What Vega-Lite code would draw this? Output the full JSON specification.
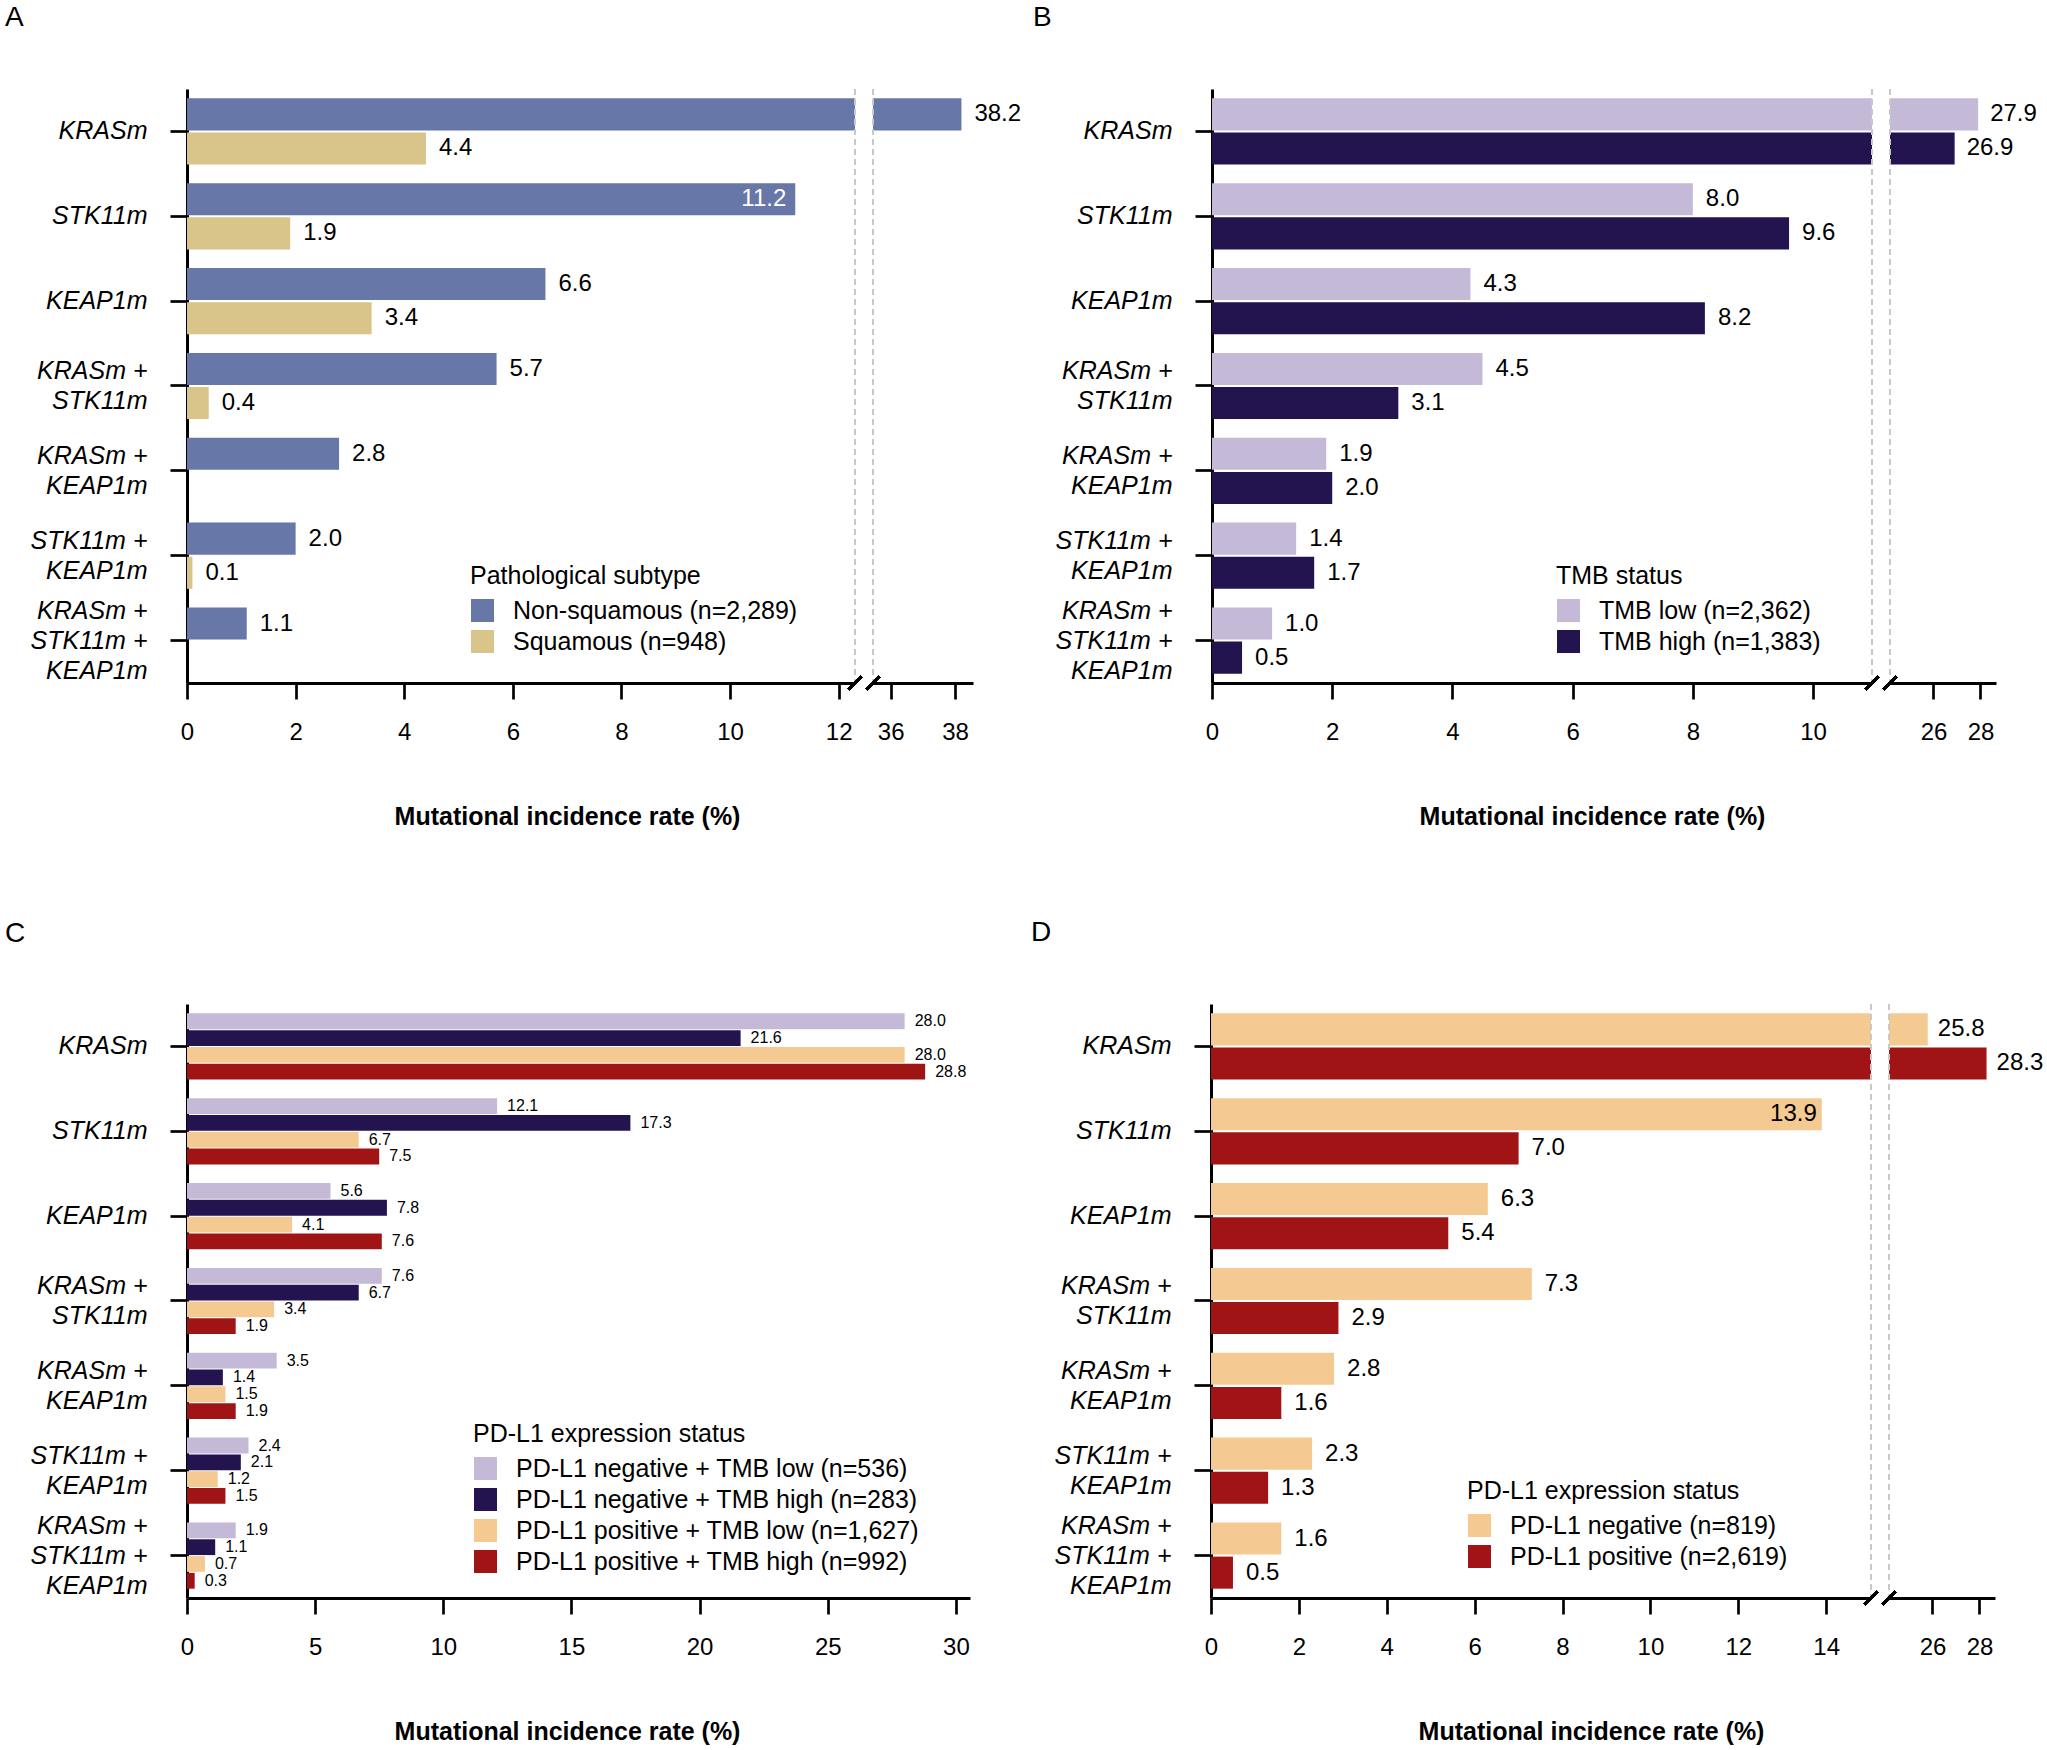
{
"$schema": "https://vega.github.io/schema/vega-lite/v6.json",
"autosize": {"type": "none"},
"padding": {"left": 187, "top": 89, "right": 1860, "bottom": 1661},
"background": "white",
"config": {
  "font": "Liberation Sans",
  "view": {"stroke": null},
  "axis": {"grid": false, "domainColor": "#000000", "domainWidth": 3, "tickColor": "#000000", "tickWidth": 2.7, "labelColor": "#000000", "titleColor": "#000000", "labelFont": "Liberation Sans", "titleFont": "Liberation Sans"},
  "axisX": {"tickSize": 16, "labelFontSize": 24, "labelPadding": 33, "labelBaseline": "middle", "labelFlush": false, "labelOverlap": false, "labelBound": false, "format": "d", "titleFontSize": 25, "titleFontWeight": "bold", "titleX": 380, "titleY": 133, "titleBaseline": "middle"},
  "axisY": {"tickSize": 17, "labelFontSize": 25, "labelFontStyle": "italic", "labelPadding": 23, "labelLineHeight": 30, "labelLimit": 400, "title": null},
  "legend": {"orient": "none", "titleFontSize": 25, "titleFontWeight": "normal", "titleColor": "#000000", "titleFont": "Liberation Sans", "labelFont": "Liberation Sans", "labelFontSize": 25, "labelColor": "#000000", "symbolType": "square", "symbolSize": 529, "symbolStrokeWidth": 0, "symbolOpacity": 1, "rowPadding": 5, "titlePadding": 9, "labelOffset": 18, "labelLimit": 800, "titleLimit": 800, "padding": 0},
  "title": {"fontSize": 28, "fontWeight": "normal", "anchor": "start", "frame": "group", "color": "#000000", "font": "Liberation Sans"},
  "text": {"font": "Liberation Sans", "color": "#000000"}
},
"datasets": {
  "a": [
    {"mutation": "KRASm", "group": "Non-squamous (n=2,289)", "rate": 38.2},
    {"mutation": "KRASm", "group": "Squamous (n=948)", "rate": 4.4},
    {"mutation": "STK11m", "group": "Non-squamous (n=2,289)", "rate": 11.2},
    {"mutation": "STK11m", "group": "Squamous (n=948)", "rate": 1.9},
    {"mutation": "KEAP1m", "group": "Non-squamous (n=2,289)", "rate": 6.6},
    {"mutation": "KEAP1m", "group": "Squamous (n=948)", "rate": 3.4},
    {"mutation": "KRASm + STK11m", "group": "Non-squamous (n=2,289)", "rate": 5.7},
    {"mutation": "KRASm + STK11m", "group": "Squamous (n=948)", "rate": 0.4},
    {"mutation": "KRASm + KEAP1m", "group": "Non-squamous (n=2,289)", "rate": 2.8},
    {"mutation": "STK11m + KEAP1m", "group": "Non-squamous (n=2,289)", "rate": 2.0},
    {"mutation": "STK11m + KEAP1m", "group": "Squamous (n=948)", "rate": 0.1},
    {"mutation": "KRASm + STK11m + KEAP1m", "group": "Non-squamous (n=2,289)", "rate": 1.1}
  ],
  "b": [
    {"mutation": "KRASm", "group": "TMB low (n=2,362)", "rate": 27.9},
    {"mutation": "KRASm", "group": "TMB high (n=1,383)", "rate": 26.9},
    {"mutation": "STK11m", "group": "TMB low (n=2,362)", "rate": 8.0},
    {"mutation": "STK11m", "group": "TMB high (n=1,383)", "rate": 9.6},
    {"mutation": "KEAP1m", "group": "TMB low (n=2,362)", "rate": 4.3},
    {"mutation": "KEAP1m", "group": "TMB high (n=1,383)", "rate": 8.2},
    {"mutation": "KRASm + STK11m", "group": "TMB low (n=2,362)", "rate": 4.5},
    {"mutation": "KRASm + STK11m", "group": "TMB high (n=1,383)", "rate": 3.1},
    {"mutation": "KRASm + KEAP1m", "group": "TMB low (n=2,362)", "rate": 1.9},
    {"mutation": "KRASm + KEAP1m", "group": "TMB high (n=1,383)", "rate": 2.0},
    {"mutation": "STK11m + KEAP1m", "group": "TMB low (n=2,362)", "rate": 1.4},
    {"mutation": "STK11m + KEAP1m", "group": "TMB high (n=1,383)", "rate": 1.7},
    {"mutation": "KRASm + STK11m + KEAP1m", "group": "TMB low (n=2,362)", "rate": 1.0},
    {"mutation": "KRASm + STK11m + KEAP1m", "group": "TMB high (n=1,383)", "rate": 0.5}
  ],
  "c": [
    {"mutation": "KRASm", "group": "PD-L1 negative + TMB low (n=536)", "rate": 28.0},
    {"mutation": "KRASm", "group": "PD-L1 negative + TMB high (n=283)", "rate": 21.6},
    {"mutation": "KRASm", "group": "PD-L1 positive + TMB low (n=1,627)", "rate": 28.0},
    {"mutation": "KRASm", "group": "PD-L1 positive + TMB high (n=992)", "rate": 28.8},
    {"mutation": "STK11m", "group": "PD-L1 negative + TMB low (n=536)", "rate": 12.1},
    {"mutation": "STK11m", "group": "PD-L1 negative + TMB high (n=283)", "rate": 17.3},
    {"mutation": "STK11m", "group": "PD-L1 positive + TMB low (n=1,627)", "rate": 6.7},
    {"mutation": "STK11m", "group": "PD-L1 positive + TMB high (n=992)", "rate": 7.5},
    {"mutation": "KEAP1m", "group": "PD-L1 negative + TMB low (n=536)", "rate": 5.6},
    {"mutation": "KEAP1m", "group": "PD-L1 negative + TMB high (n=283)", "rate": 7.8},
    {"mutation": "KEAP1m", "group": "PD-L1 positive + TMB low (n=1,627)", "rate": 4.1},
    {"mutation": "KEAP1m", "group": "PD-L1 positive + TMB high (n=992)", "rate": 7.6},
    {"mutation": "KRASm + STK11m", "group": "PD-L1 negative + TMB low (n=536)", "rate": 7.6},
    {"mutation": "KRASm + STK11m", "group": "PD-L1 negative + TMB high (n=283)", "rate": 6.7},
    {"mutation": "KRASm + STK11m", "group": "PD-L1 positive + TMB low (n=1,627)", "rate": 3.4},
    {"mutation": "KRASm + STK11m", "group": "PD-L1 positive + TMB high (n=992)", "rate": 1.9},
    {"mutation": "KRASm + KEAP1m", "group": "PD-L1 negative + TMB low (n=536)", "rate": 3.5},
    {"mutation": "KRASm + KEAP1m", "group": "PD-L1 negative + TMB high (n=283)", "rate": 1.4},
    {"mutation": "KRASm + KEAP1m", "group": "PD-L1 positive + TMB low (n=1,627)", "rate": 1.5},
    {"mutation": "KRASm + KEAP1m", "group": "PD-L1 positive + TMB high (n=992)", "rate": 1.9},
    {"mutation": "STK11m + KEAP1m", "group": "PD-L1 negative + TMB low (n=536)", "rate": 2.4},
    {"mutation": "STK11m + KEAP1m", "group": "PD-L1 negative + TMB high (n=283)", "rate": 2.1},
    {"mutation": "STK11m + KEAP1m", "group": "PD-L1 positive + TMB low (n=1,627)", "rate": 1.2},
    {"mutation": "STK11m + KEAP1m", "group": "PD-L1 positive + TMB high (n=992)", "rate": 1.5},
    {"mutation": "KRASm + STK11m + KEAP1m", "group": "PD-L1 negative + TMB low (n=536)", "rate": 1.9},
    {"mutation": "KRASm + STK11m + KEAP1m", "group": "PD-L1 negative + TMB high (n=283)", "rate": 1.1},
    {"mutation": "KRASm + STK11m + KEAP1m", "group": "PD-L1 positive + TMB low (n=1,627)", "rate": 0.7},
    {"mutation": "KRASm + STK11m + KEAP1m", "group": "PD-L1 positive + TMB high (n=992)", "rate": 0.3}
  ],
  "d": [
    {"mutation": "KRASm", "group": "PD-L1 negative (n=819)", "rate": 25.8},
    {"mutation": "KRASm", "group": "PD-L1 positive (n=2,619)", "rate": 28.3},
    {"mutation": "STK11m", "group": "PD-L1 negative (n=819)", "rate": 13.9},
    {"mutation": "STK11m", "group": "PD-L1 positive (n=2,619)", "rate": 7.0},
    {"mutation": "KEAP1m", "group": "PD-L1 negative (n=819)", "rate": 6.3},
    {"mutation": "KEAP1m", "group": "PD-L1 positive (n=2,619)", "rate": 5.4},
    {"mutation": "KRASm + STK11m", "group": "PD-L1 negative (n=819)", "rate": 7.3},
    {"mutation": "KRASm + STK11m", "group": "PD-L1 positive (n=2,619)", "rate": 2.9},
    {"mutation": "KRASm + KEAP1m", "group": "PD-L1 negative (n=819)", "rate": 2.8},
    {"mutation": "KRASm + KEAP1m", "group": "PD-L1 positive (n=2,619)", "rate": 1.6},
    {"mutation": "STK11m + KEAP1m", "group": "PD-L1 negative (n=819)", "rate": 2.3},
    {"mutation": "STK11m + KEAP1m", "group": "PD-L1 positive (n=2,619)", "rate": 1.3},
    {"mutation": "KRASm + STK11m + KEAP1m", "group": "PD-L1 negative (n=819)", "rate": 1.6},
    {"mutation": "KRASm + STK11m + KEAP1m", "group": "PD-L1 positive (n=2,619)", "rate": 0.5}
  ]
},
"spacing": 90,
"resolve": {"scale": {"x": "independent", "y": "independent", "color": "independent", "yOffset": "independent"}, "legend": {"color": "independent"}},
"vconcat": [
 {
  "hconcat": [
  {
    "width": 668, "height": 594,
    "title": {"text": "A", "dx": -182, "offset": 34, "baseline": "alphabetic"},
    "data": {"name": "a"},
    "layer": [
      {"layer": [
        {"mark": {"type": "bar", "clip": true},
         "encoding": {
          "y": {"field": "mutation", "type": "nominal", "sort": ["KRASm","STK11m","KEAP1m","KRASm + STK11m","KRASm + KEAP1m","STK11m + KEAP1m","KRASm + STK11m + KEAP1m"], "scale": {"domain": ["KRASm","STK11m","KEAP1m","KRASm + STK11m","KRASm + KEAP1m","STK11m + KEAP1m","KRASm + STK11m + KEAP1m"], "paddingInner": 0.22, "paddingOuter": 0.11}, "axis": {"labelExpr": "indexof(datum.label, ' + ') < 0 ? datum.label : split(replace(replace(datum.label, ' + ', ' +\\n'), ' + ', ' +\\n'), '\\n')", "labelOffset": {"condition": [{"test": "datum.label == 'KRASm + STK11m + KEAP1m'", "value": -30}, {"test": "indexof(datum.label, ' + ') >= 0", "value": -15}], "value": 0}}},
          "yOffset": {"field": "group", "type": "nominal", "sort": ["Non-squamous (n=2,289)", "Squamous (n=948)"], "scale": {"domain": ["Non-squamous (n=2,289)", "Squamous (n=948)"], "paddingInner": 0.06, "paddingOuter": 0}},
          "x": {"field": "rate", "type": "quantitative", "stack": null, "scale": {"domain": [0, 12.3], "nice": false, "zero": false}, "axis": {"values": [0,2,4,6,8,10,12], "title": "Mutational incidence rate (%)"}},
          "color": {"field": "group", "type": "nominal", "scale": {"domain": ["Non-squamous (n=2,289)", "Squamous (n=948)"], "range": ["#6677A8", "#D9C48A"]}, "legend": {"title": "Pathological subtype", "orient": "none", "legendX": 283, "legendY": 475}}
         }},
        {"transform": [{"filter": "datum.rate <= 10"}],
         "mark": {"type": "text", "align": "left", "baseline": "middle", "dx": 13, "fontSize": 24},
         "encoding": {"y": {"field": "mutation", "type": "nominal", "sort": ["KRASm","STK11m","KEAP1m","KRASm + STK11m","KRASm + KEAP1m","STK11m + KEAP1m","KRASm + STK11m + KEAP1m"]}, "yOffset": {"field": "group", "type": "nominal", "sort": ["Non-squamous (n=2,289)", "Squamous (n=948)"]}, "x": {"field": "rate", "type": "quantitative"}, "text": {"field": "rate", "type": "quantitative", "format": ".1f"}}},
        {"transform": [{"filter": "datum.rate > 10 && datum.rate <= 12.3"}],
         "mark": {"type": "text", "align": "right", "baseline": "middle", "dx": -9, "fontSize": 24, "color": "#ffffff"},
         "encoding": {"y": {"field": "mutation", "type": "nominal", "sort": ["KRASm","STK11m","KEAP1m","KRASm + STK11m","KRASm + KEAP1m","STK11m + KEAP1m","KRASm + STK11m + KEAP1m"]}, "yOffset": {"field": "group", "type": "nominal", "sort": ["Non-squamous (n=2,289)", "Squamous (n=948)"]}, "x": {"field": "rate", "type": "quantitative"}, "text": {"field": "rate", "type": "quantitative", "format": ".1f"}}}
      ]},
      {"mark": {"type": "rule", "color": "#c8c8c8", "strokeDash": [6, 4], "strokeWidth": 1.3}, "encoding": {"x": {"datum": 12.3, "type": "quantitative"}}},
      {"mark": {"type": "point", "shape": "M-1,1L1,-1", "size": 169, "strokeWidth": 3, "color": "#000000", "filled": false, "opacity": 1}, "encoding": {"x": {"datum": 12.3, "type": "quantitative"}, "y": {"datum": 0, "type": "quantitative", "scale": {"domain": [0, 1]}, "axis": null}}}
    ],
    "resolve": {"scale": {"y": "independent"}}
  },
  {
    "width": 100, "height": 594,
    "data": {"name": "a"},
    "layer": [
      {"layer": [
        {"mark": {"type": "bar", "clip": true},
         "encoding": {
          "y": {"field": "mutation", "type": "nominal", "sort": ["KRASm","STK11m","KEAP1m","KRASm + STK11m","KRASm + KEAP1m","STK11m + KEAP1m","KRASm + STK11m + KEAP1m"], "scale": {"domain": ["KRASm","STK11m","KEAP1m","KRASm + STK11m","KRASm + KEAP1m","STK11m + KEAP1m","KRASm + STK11m + KEAP1m"], "paddingInner": 0.22, "paddingOuter": 0.11}, "axis": null},
          "yOffset": {"field": "group", "type": "nominal", "sort": ["Non-squamous (n=2,289)", "Squamous (n=948)"], "scale": {"domain": ["Non-squamous (n=2,289)", "Squamous (n=948)"], "paddingInner": 0.06, "paddingOuter": 0}},
          "x": {"field": "rate", "type": "quantitative", "stack": null, "scale": {"domain": [35.45, 38.56], "nice": false, "zero": false}, "axis": {"values": [36, 38], "title": null}},
          "color": {"field": "group", "type": "nominal", "scale": {"domain": ["Non-squamous (n=2,289)", "Squamous (n=948)"], "range": ["#6677A8", "#D9C48A"]}, "legend": null}
         }},
        {"transform": [{"filter": "datum.rate > 35.45"}],
         "mark": {"type": "text", "align": "left", "baseline": "middle", "dx": 13, "fontSize": 24},
         "encoding": {"y": {"field": "mutation", "type": "nominal", "sort": ["KRASm","STK11m","KEAP1m","KRASm + STK11m","KRASm + KEAP1m","STK11m + KEAP1m","KRASm + STK11m + KEAP1m"]}, "yOffset": {"field": "group", "type": "nominal", "sort": ["Non-squamous (n=2,289)", "Squamous (n=948)"]}, "x": {"field": "rate", "type": "quantitative"}, "text": {"field": "rate", "type": "quantitative", "format": ".1f"}}}
      ]},
      {"mark": {"type": "rule", "color": "#c8c8c8", "strokeDash": [6, 4], "strokeWidth": 1.3}, "encoding": {"x": {"datum": 35.45, "type": "quantitative"}}},
      {"mark": {"type": "point", "shape": "M-1,1L1,-1", "size": 169, "strokeWidth": 3, "color": "#000000", "filled": false, "opacity": 1}, "encoding": {"x": {"datum": 35.45, "type": "quantitative"}, "y": {"datum": 0, "type": "quantitative", "scale": {"domain": [0, 1]}, "axis": null}}}
    ],
    "resolve": {"scale": {"y": "independent"}}
  },
  {"width": 203, "height": 594, "data": {"values": []}, "mark": "point", "encoding": {}},
  {
    "width": 660, "height": 594,
    "title": {"text": "B", "dx": -179, "offset": 34, "baseline": "alphabetic"},
    "data": {"name": "b"},
    "layer": [
      {"layer": [
        {"mark": {"type": "bar", "clip": true},
         "encoding": {
          "y": {"field": "mutation", "type": "nominal", "sort": ["KRASm","STK11m","KEAP1m","KRASm + STK11m","KRASm + KEAP1m","STK11m + KEAP1m","KRASm + STK11m + KEAP1m"], "scale": {"domain": ["KRASm","STK11m","KEAP1m","KRASm + STK11m","KRASm + KEAP1m","STK11m + KEAP1m","KRASm + STK11m + KEAP1m"], "paddingInner": 0.22, "paddingOuter": 0.11}, "axis": {"labelExpr": "indexof(datum.label, ' + ') < 0 ? datum.label : split(replace(replace(datum.label, ' + ', ' +\\n'), ' + ', ' +\\n'), '\\n')", "labelOffset": {"condition": [{"test": "datum.label == 'KRASm + STK11m + KEAP1m'", "value": -30}, {"test": "indexof(datum.label, ' + ') >= 0", "value": -15}], "value": 0}}},
          "yOffset": {"field": "group", "type": "nominal", "sort": ["TMB low (n=2,362)", "TMB high (n=1,383)"], "scale": {"domain": ["TMB low (n=2,362)", "TMB high (n=1,383)"], "paddingInner": 0.06, "paddingOuter": 0}},
          "x": {"field": "rate", "type": "quantitative", "stack": null, "scale": {"domain": [0, 10.98], "nice": false, "zero": false}, "axis": {"values": [0,2,4,6,8,10], "title": "Mutational incidence rate (%)"}},
          "color": {"field": "group", "type": "nominal", "scale": {"domain": ["TMB low (n=2,362)", "TMB high (n=1,383)"], "range": ["#C5B9D8", "#231450"]}, "legend": {"title": "TMB status", "orient": "none", "legendX": 344, "legendY": 475}}
         }},
        {"transform": [{"filter": "datum.rate <= 10.98"}],
         "mark": {"type": "text", "align": "left", "baseline": "middle", "dx": 13, "fontSize": 24},
         "encoding": {"y": {"field": "mutation", "type": "nominal", "sort": ["KRASm","STK11m","KEAP1m","KRASm + STK11m","KRASm + KEAP1m","STK11m + KEAP1m","KRASm + STK11m + KEAP1m"]}, "yOffset": {"field": "group", "type": "nominal", "sort": ["TMB low (n=2,362)", "TMB high (n=1,383)"]}, "x": {"field": "rate", "type": "quantitative"}, "text": {"field": "rate", "type": "quantitative", "format": ".1f"}}}
      ]},
      {"mark": {"type": "rule", "color": "#c8c8c8", "strokeDash": [6, 4], "strokeWidth": 1.3}, "encoding": {"x": {"datum": 10.98, "type": "quantitative"}}},
      {"mark": {"type": "point", "shape": "M-1,1L1,-1", "size": 169, "strokeWidth": 3, "color": "#000000", "filled": false, "opacity": 1}, "encoding": {"x": {"datum": 10.98, "type": "quantitative"}, "y": {"datum": 0, "type": "quantitative", "scale": {"domain": [0, 1]}, "axis": null}}}
    ],
    "resolve": {"scale": {"y": "independent"}}
  },
  {
    "width": 106, "height": 594,
    "data": {"name": "b"},
    "layer": [
      {"layer": [
        {"mark": {"type": "bar", "clip": true},
         "encoding": {
          "y": {"field": "mutation", "type": "nominal", "sort": ["KRASm","STK11m","KEAP1m","KRASm + STK11m","KRASm + KEAP1m","STK11m + KEAP1m","KRASm + STK11m + KEAP1m"], "scale": {"domain": ["KRASm","STK11m","KEAP1m","KRASm + STK11m","KRASm + KEAP1m","STK11m + KEAP1m","KRASm + STK11m + KEAP1m"], "paddingInner": 0.22, "paddingOuter": 0.11}, "axis": null},
          "yOffset": {"field": "group", "type": "nominal", "sort": ["TMB low (n=2,362)", "TMB high (n=1,383)"], "scale": {"domain": ["TMB low (n=2,362)", "TMB high (n=1,383)"], "paddingInner": 0.06, "paddingOuter": 0}},
          "x": {"field": "rate", "type": "quantitative", "stack": null, "scale": {"domain": [24.15, 28.66], "nice": false, "zero": false}, "axis": {"values": [26, 28], "title": null}},
          "color": {"field": "group", "type": "nominal", "scale": {"domain": ["TMB low (n=2,362)", "TMB high (n=1,383)"], "range": ["#C5B9D8", "#231450"]}, "legend": null}
         }},
        {"transform": [{"filter": "datum.rate > 24.15"}],
         "mark": {"type": "text", "align": "left", "baseline": "middle", "dx": 12, "fontSize": 24},
         "encoding": {"y": {"field": "mutation", "type": "nominal", "sort": ["KRASm","STK11m","KEAP1m","KRASm + STK11m","KRASm + KEAP1m","STK11m + KEAP1m","KRASm + STK11m + KEAP1m"]}, "yOffset": {"field": "group", "type": "nominal", "sort": ["TMB low (n=2,362)", "TMB high (n=1,383)"]}, "x": {"field": "rate", "type": "quantitative"}, "text": {"field": "rate", "type": "quantitative", "format": ".1f"}}}
      ]},
      {"mark": {"type": "rule", "color": "#c8c8c8", "strokeDash": [6, 4], "strokeWidth": 1.3}, "encoding": {"x": {"datum": 24.15, "type": "quantitative"}}},
      {"mark": {"type": "point", "shape": "M-1,1L1,-1", "size": 169, "strokeWidth": 3, "color": "#000000", "filled": false, "opacity": 1}, "encoding": {"x": {"datum": 24.15, "type": "quantitative"}, "y": {"datum": 0, "type": "quantitative", "scale": {"domain": [0, 1]}, "axis": null}}}
    ],
    "resolve": {"scale": {"y": "independent"}}
  }
  ],
  "spacing": 18,
  "bounds": "flush",
  "resolve": {"scale": {"x": "independent", "y": "independent", "color": "independent", "yOffset": "independent"}, "legend": {"color": "independent"}}
 },
 {
  "hconcat": [
  {
    "width": 783, "height": 594,
    "title": {"text": "C", "dx": -182, "offset": 34, "baseline": "alphabetic"},
    "data": {"name": "c"},
    "layer": [
      {"mark": {"type": "bar"},
       "encoding": {
        "y": {"field": "mutation", "type": "nominal", "sort": ["KRASm","STK11m","KEAP1m","KRASm + STK11m","KRASm + KEAP1m","STK11m + KEAP1m","KRASm + STK11m + KEAP1m"], "scale": {"domain": ["KRASm","STK11m","KEAP1m","KRASm + STK11m","KRASm + KEAP1m","STK11m + KEAP1m","KRASm + STK11m + KEAP1m"], "paddingInner": 0.22, "paddingOuter": 0.11}, "axis": {"labelExpr": "indexof(datum.label, ' + ') < 0 ? datum.label : split(replace(replace(datum.label, ' + ', ' +\\n'), ' + ', ' +\\n'), '\\n')", "labelOffset": {"condition": [{"test": "datum.label == 'KRASm + STK11m + KEAP1m'", "value": -30}, {"test": "indexof(datum.label, ' + ') >= 0", "value": -15}], "value": 0}}},
        "yOffset": {"field": "group", "type": "nominal", "sort": ["PD-L1 negative + TMB low (n=536)", "PD-L1 negative + TMB high (n=283)", "PD-L1 positive + TMB low (n=1,627)", "PD-L1 positive + TMB high (n=992)"], "scale": {"domain": ["PD-L1 negative + TMB low (n=536)", "PD-L1 negative + TMB high (n=283)", "PD-L1 positive + TMB low (n=1,627)", "PD-L1 positive + TMB high (n=992)"], "paddingInner": 0.06, "paddingOuter": 0}},
        "x": {"field": "rate", "type": "quantitative", "stack": null, "scale": {"domain": [0, 30.55], "nice": false, "zero": false}, "axis": {"values": [0,5,10,15,20,25,30], "title": "Mutational incidence rate (%)"}},
        "color": {"field": "group", "type": "nominal", "scale": {"domain": ["PD-L1 negative + TMB low (n=536)", "PD-L1 negative + TMB high (n=283)", "PD-L1 positive + TMB low (n=1,627)", "PD-L1 positive + TMB high (n=992)"], "range": ["#C5B9D8", "#231450", "#F5CA92", "#A01416"]}, "legend": {"title": "PD-L1 expression status", "orient": "none", "legendX": 286, "legendY": 418}}
       }},
      {"mark": {"type": "text", "align": "left", "baseline": "middle", "dx": 10, "fontSize": 16},
       "encoding": {"y": {"field": "mutation", "type": "nominal", "sort": ["KRASm","STK11m","KEAP1m","KRASm + STK11m","KRASm + KEAP1m","STK11m + KEAP1m","KRASm + STK11m + KEAP1m"]}, "yOffset": {"field": "group", "type": "nominal", "sort": ["PD-L1 negative + TMB low (n=536)", "PD-L1 negative + TMB high (n=283)", "PD-L1 positive + TMB low (n=1,627)", "PD-L1 positive + TMB high (n=992)"]}, "x": {"field": "rate", "type": "quantitative"}, "text": {"field": "rate", "type": "quantitative", "format": ".1f"}}}
    ]
  },
  {"width": 205, "height": 594, "data": {"values": []}, "mark": "point", "encoding": {}},
  {
    "width": 660, "height": 594,
    "title": {"text": "D", "dx": -180, "offset": 34, "baseline": "alphabetic"},
    "data": {"name": "d"},
    "layer": [
      {"layer": [
        {"mark": {"type": "bar", "clip": true},
         "encoding": {
          "y": {"field": "mutation", "type": "nominal", "sort": ["KRASm","STK11m","KEAP1m","KRASm + STK11m","KRASm + KEAP1m","STK11m + KEAP1m","KRASm + STK11m + KEAP1m"], "scale": {"domain": ["KRASm","STK11m","KEAP1m","KRASm + STK11m","KRASm + KEAP1m","STK11m + KEAP1m","KRASm + STK11m + KEAP1m"], "paddingInner": 0.22, "paddingOuter": 0.11}, "axis": {"labelExpr": "indexof(datum.label, ' + ') < 0 ? datum.label : split(replace(replace(datum.label, ' + ', ' +\\n'), ' + ', ' +\\n'), '\\n')", "labelOffset": {"condition": [{"test": "datum.label == 'KRASm + STK11m + KEAP1m'", "value": -30}, {"test": "indexof(datum.label, ' + ') >= 0", "value": -15}], "value": 0}}},
          "yOffset": {"field": "group", "type": "nominal", "sort": ["PD-L1 negative (n=819)", "PD-L1 positive (n=2,619)"], "scale": {"domain": ["PD-L1 negative (n=819)", "PD-L1 positive (n=2,619)"], "paddingInner": 0.06, "paddingOuter": 0}},
          "x": {"field": "rate", "type": "quantitative", "stack": null, "scale": {"domain": [0, 15.02], "nice": false, "zero": false}, "axis": {"values": [0,2,4,6,8,10,12,14], "title": "Mutational incidence rate (%)"}},
          "color": {"field": "group", "type": "nominal", "scale": {"domain": ["PD-L1 negative (n=819)", "PD-L1 positive (n=2,619)"], "range": ["#F5CA92", "#A01416"]}, "legend": {"title": "PD-L1 expression status", "orient": "none", "legendX": 256, "legendY": 475}}
         }},
        {"transform": [{"filter": "datum.rate <= 13"}],
         "mark": {"type": "text", "align": "left", "baseline": "middle", "dx": 13, "fontSize": 24},
         "encoding": {"y": {"field": "mutation", "type": "nominal", "sort": ["KRASm","STK11m","KEAP1m","KRASm + STK11m","KRASm + KEAP1m","STK11m + KEAP1m","KRASm + STK11m + KEAP1m"]}, "yOffset": {"field": "group", "type": "nominal", "sort": ["PD-L1 negative (n=819)", "PD-L1 positive (n=2,619)"]}, "x": {"field": "rate", "type": "quantitative"}, "text": {"field": "rate", "type": "quantitative", "format": ".1f"}}},
        {"transform": [{"filter": "datum.rate > 13 && datum.rate <= 15.02"}],
         "mark": {"type": "text", "align": "right", "baseline": "middle", "dx": -5, "fontSize": 24},
         "encoding": {"y": {"field": "mutation", "type": "nominal", "sort": ["KRASm","STK11m","KEAP1m","KRASm + STK11m","KRASm + KEAP1m","STK11m + KEAP1m","KRASm + STK11m + KEAP1m"]}, "yOffset": {"field": "group", "type": "nominal", "sort": ["PD-L1 negative (n=819)", "PD-L1 positive (n=2,619)"]}, "x": {"field": "rate", "type": "quantitative"}, "text": {"field": "rate", "type": "quantitative", "format": ".1f"}}}
      ]},
      {"mark": {"type": "rule", "color": "#c8c8c8", "strokeDash": [6, 4], "strokeWidth": 1.3}, "encoding": {"x": {"datum": 15.02, "type": "quantitative"}}},
      {"mark": {"type": "point", "shape": "M-1,1L1,-1", "size": 169, "strokeWidth": 3, "color": "#000000", "filled": false, "opacity": 1}, "encoding": {"x": {"datum": 15.02, "type": "quantitative"}, "y": {"datum": 0, "type": "quantitative", "scale": {"domain": [0, 1]}, "axis": null}}}
    ],
    "resolve": {"scale": {"y": "independent"}}
  },
  {
    "width": 106, "height": 594,
    "data": {"name": "d"},
    "layer": [
      {"layer": [
        {"mark": {"type": "bar", "clip": true},
         "encoding": {
          "y": {"field": "mutation", "type": "nominal", "sort": ["KRASm","STK11m","KEAP1m","KRASm + STK11m","KRASm + KEAP1m","STK11m + KEAP1m","KRASm + STK11m + KEAP1m"], "scale": {"domain": ["KRASm","STK11m","KEAP1m","KRASm + STK11m","KRASm + KEAP1m","STK11m + KEAP1m","KRASm + STK11m + KEAP1m"], "paddingInner": 0.22, "paddingOuter": 0.11}, "axis": null},
          "yOffset": {"field": "group", "type": "nominal", "sort": ["PD-L1 negative (n=819)", "PD-L1 positive (n=2,619)"], "scale": {"domain": ["PD-L1 negative (n=819)", "PD-L1 positive (n=2,619)"], "paddingInner": 0.06, "paddingOuter": 0}},
          "x": {"field": "rate", "type": "quantitative", "stack": null, "scale": {"domain": [24.15, 28.66], "nice": false, "zero": false}, "axis": {"values": [26, 28], "title": null}},
          "color": {"field": "group", "type": "nominal", "scale": {"domain": ["PD-L1 negative (n=819)", "PD-L1 positive (n=2,619)"], "range": ["#F5CA92", "#A01416"]}, "legend": null}
         }},
        {"transform": [{"filter": "datum.rate > 24.15"}],
         "mark": {"type": "text", "align": "left", "baseline": "middle", "dx": 10, "fontSize": 24},
         "encoding": {"y": {"field": "mutation", "type": "nominal", "sort": ["KRASm","STK11m","KEAP1m","KRASm + STK11m","KRASm + KEAP1m","STK11m + KEAP1m","KRASm + STK11m + KEAP1m"]}, "yOffset": {"field": "group", "type": "nominal", "sort": ["PD-L1 negative (n=819)", "PD-L1 positive (n=2,619)"]}, "x": {"field": "rate", "type": "quantitative"}, "text": {"field": "rate", "type": "quantitative", "format": ".1f"}}}
      ]},
      {"mark": {"type": "rule", "color": "#c8c8c8", "strokeDash": [6, 4], "strokeWidth": 1.3}, "encoding": {"x": {"datum": 24.15, "type": "quantitative"}}},
      {"mark": {"type": "point", "shape": "M-1,1L1,-1", "size": 169, "strokeWidth": 3, "color": "#000000", "filled": false, "opacity": 1}, "encoding": {"x": {"datum": 24.15, "type": "quantitative"}, "y": {"datum": 0, "type": "quantitative", "scale": {"domain": [0, 1]}, "axis": null}}}
    ],
    "resolve": {"scale": {"y": "independent"}}
  }
  ],
  "spacing": 18,
  "bounds": "flush",
  "resolve": {"scale": {"x": "independent", "y": "independent", "color": "independent", "yOffset": "independent"}, "legend": {"color": "independent"}}
 }
]
}
